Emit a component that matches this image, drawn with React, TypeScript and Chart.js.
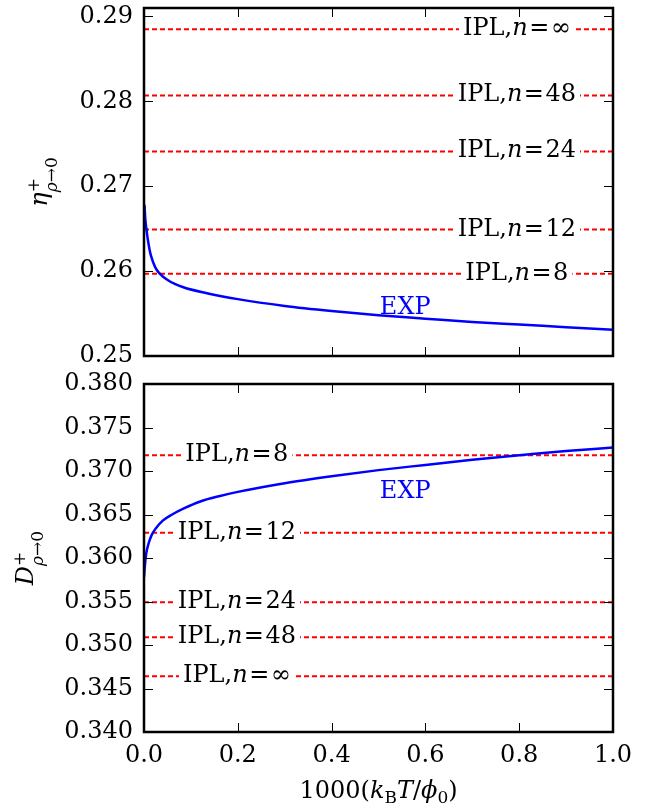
import { useEffect, useRef } from "react";
import { Chart, registerables } from "chart.js";

Chart.register(...registerables);

// ---- data ----
const X_TICK_LABELS = ["0.0", "0.2", "0.4", "0.6", "0.8", "1.0"];
const ETA_TICK_LABELS = ["0.25", "0.26", "0.27", "0.28", "0.29"];
const D_TICK_LABELS = ["0.340", "0.345", "0.350", "0.355", "0.360", "0.365", "0.370", "0.375", "0.380"];

// EXP shear viscosity, zero-density limit
const ETA_X = [0.001, 0.003, 0.006, 0.0085, 0.012, 0.015, 0.0235, 0.032, 0.052, 0.084, 0.134, 0.2, 0.3, 0.4, 0.5, 0.6, 0.7, 0.8, 0.9, 1.0];
const ETA_Y = [0.2678, 0.266, 0.2646, 0.2636, 0.2625, 0.2618, 0.2605, 0.2598, 0.2589, 0.2581, 0.2574, 0.2567, 0.2559, 0.2553, 0.2548, 0.2544, 0.254, 0.2537, 0.2534, 0.2531];

// EXP self-diffusion, zero-density limit
const D_X = [0, 0.002, 0.005, 0.01, 0.016, 0.025, 0.04, 0.06, 0.085, 0.12, 0.16, 0.2, 0.3, 0.4, 0.5, 0.6, 0.7, 0.8, 0.9, 1.0];
const D_Y = [0.3578, 0.3592, 0.3606, 0.3617, 0.3626, 0.3634, 0.3643, 0.365, 0.3657, 0.3665, 0.3671, 0.3676, 0.3686, 0.3694, 0.3701, 0.3707, 0.3713, 0.3718, 0.3723, 0.3727];

// inverse-power-law reference values
const IPL_N = ["8", "12", "24", "48", "∞"];
const ETA_IPL = [0.2597, 0.2649, 0.2741, 0.2807, 0.2885];
const D_IPL = [0.3718, 0.3629, 0.3549, 0.3509, 0.3464];

// ---- text helpers ----
const FAMILY = '"DejaVu Serif", serif';
const BASE = 24;
const SMALL = 17;

type Seg = { t: string; italic?: boolean; size?: number; dy?: number; gap?: number };
type Item = Seg | { sup: Seg[]; sub: Seg[] };

const fontOf = (s: Seg) => `${s.italic ? "italic " : ""}${s.size ?? BASE}px ${FAMILY}`;

function runWidth(ctx: CanvasRenderingContext2D, segs: Seg[]) {
  let w = 0;
  for (const s of segs) {
    ctx.font = fontOf(s);
    w += ctx.measureText(s.t).width + 2 * (s.gap ?? 0);
  }
  return w;
}

function layout(ctx: CanvasRenderingContext2D, items: Item[]) {
  const placed: { s: Seg; x: number }[] = [];
  let x = 0;
  const putRun = (segs: Seg[], start: number) => {
    let cx = start;
    for (const s of segs) {
      ctx.font = fontOf(s);
      cx += s.gap ?? 0;
      placed.push({ s, x: cx });
      cx += ctx.measureText(s.t).width + (s.gap ?? 0);
    }
  };
  for (const it of items) {
    if ("sup" in it) {
      putRun(it.sup, x);
      putRun(it.sub, x);
      x += Math.max(runWidth(ctx, it.sup), runWidth(ctx, it.sub));
    } else {
      putRun([it], x);
      x += runWidth(ctx, [it]);
    }
  }
  return { placed, width: x };
}

function drawItems(ctx: CanvasRenderingContext2D, items: Item[], x: number, y: number, center: boolean) {
  const { placed, width } = layout(ctx, items);
  const x0 = center ? x - width / 2 : x;
  ctx.textAlign = "left";
  ctx.textBaseline = "alphabetic";
  for (const p of placed) {
    ctx.font = fontOf(p.s);
    ctx.fillText(p.s.t, x0 + p.x, y + (p.s.dy ?? 0));
  }
  return width;
}

const iplText = (n: string): Item[] => [{ t: "IPL," }, { t: "n", italic: true }, { t: "=", gap: 1.5 }, { t: n }];
const subRho: Seg[] = [
  { t: "ρ", italic: true, size: SMALL, dy: 10 },
  { t: "→", size: SMALL, dy: 10 },
  { t: "0", size: SMALL, dy: 10 },
];
const ETA_TITLE: Item[] = [{ t: "η", italic: true }, { sup: [{ t: "+", size: SMALL, dy: -8 }], sub: subRho }];
const D_TITLE: Item[] = [{ t: "D", italic: true }, { sup: [{ t: "+", size: SMALL, dy: -8 }], sub: subRho }];
const X_TITLE: Item[] = [
  { t: "1000(" },
  { t: "k", italic: true },
  { t: "B", size: SMALL, dy: 5 },
  { t: "T", italic: true },
  { t: "/" },
  { t: "ϕ", italic: true },
  { t: "0", size: SMALL, dy: 5 },
  { t: ")" },
];

interface PanelSpec {
  tickLabels: string[];
  yMin: number;
  yMax: number;
  curveX: number[];
  curveY: number[];
  ipl: number[];
  iplAt: number;
  expAt: [number, number];
  padTop: number;
  padRight: number;
  yAxisWidth: number;
  xAxisHeight: number;
  showXTicks: boolean;
  yTitle: Item[];
  yTitleBaseline: number;
  xTitleBaseline?: number;
}

function makePanel(canvas: HTMLCanvasElement, spec: PanelSpec) {
  const yTicks = spec.tickLabels.map(Number);
  const xTicks = X_TICK_LABELS.map(Number);

  const decor = {
    id: "decor",
    afterDatasetsDraw(chart: Chart) {
      const ctx = chart.ctx;
      const xs = chart.scales.x;
      const ys = chart.scales.y;
      ctx.save();
      spec.ipl.forEach((v, i) => {
        const items = iplText(IPL_N[i]);
        const w = layout(ctx, items).width;
        const cx = xs.getPixelForValue(spec.iplAt);
        const cy = ys.getPixelForValue(v);
        ctx.fillStyle = "#ffffff";
        ctx.fillRect(cx - w / 2 - 4, cy - 10, w + 8, 20);
        ctx.fillStyle = "#000000";
        drawItems(ctx, items, cx, cy + 6, true);
      });
      ctx.fillStyle = "#0000ff";
      drawItems(ctx, [{ t: "EXP" }], xs.getPixelForValue(spec.expAt[0]), ys.getPixelForValue(spec.expAt[1]) + 9, true);
      ctx.restore();
    },
    afterDraw(chart: Chart) {
      const ctx = chart.ctx;
      const { left, right, top, bottom } = chart.chartArea;
      const xs = chart.scales.x;
      const ys = chart.scales.y;
      ctx.save();
      // inward tick marks on all four sides
      ctx.strokeStyle = "#000000";
      ctx.lineWidth = 1;
      const tl = 9;
      ctx.beginPath();
      for (const v of xTicks) {
        const px = Math.round(xs.getPixelForValue(v)) + 0.5;
        ctx.moveTo(px, bottom);
        ctx.lineTo(px, bottom - tl);
        ctx.moveTo(px, top);
        ctx.lineTo(px, top + tl);
      }
      for (const v of yTicks) {
        const py = Math.round(ys.getPixelForValue(v)) + 0.5;
        ctx.moveTo(left, py);
        ctx.lineTo(left + tl, py);
        ctx.moveTo(right, py);
        ctx.lineTo(right - tl, py);
      }
      ctx.stroke();
      // frame
      ctx.lineWidth = 2.5;
      ctx.strokeRect(left, top, right - left, bottom - top);
      // y title, rotated
      ctx.fillStyle = "#000000";
      const tw = layout(ctx, spec.yTitle).width;
      ctx.translate(spec.yTitleBaseline, (top + bottom) / 2 + tw / 2);
      ctx.rotate(-Math.PI / 2);
      drawItems(ctx, spec.yTitle, 0, 0, false);
      ctx.setTransform(1, 0, 0, 1, 0, 0);
      if (spec.xTitleBaseline !== undefined) {
        drawItems(ctx, X_TITLE, (left + right) / 2, spec.xTitleBaseline, true);
      }
      ctx.restore();
    },
  };

  const font = { family: "DejaVu Serif", size: BASE };

  return new Chart(canvas, {
    type: "line",
    data: {
      datasets: [
        {
          data: spec.curveX.map((x, i) => ({ x, y: spec.curveY[i] })),
          borderColor: "#0000ff",
          borderWidth: 2.5,
          pointRadius: 0,
          cubicInterpolationMode: "monotone",
          fill: false,
          order: 0,
        },
        ...spec.ipl.map((v) => ({
          data: [
            { x: 0, y: v },
            { x: 1, y: v },
          ],
          borderColor: "#ff0000",
          borderWidth: 2,
          borderDash: [5, 3],
          pointRadius: 0,
          fill: false,
          order: 1,
        })),
      ],
    },
    options: {
      animation: false,
      responsive: false,
      events: [],
      layout: { padding: { top: spec.padTop, right: spec.padRight, left: 0, bottom: 0 } },
      plugins: { legend: { display: false }, tooltip: { enabled: false } },
      scales: {
        x: {
          type: "linear",
          min: 0,
          max: 1,
          afterBuildTicks: (s: any) => {
            s.ticks = xTicks.map((value) => ({ value }));
          },
          afterFit: (s: any) => {
            s.height = spec.xAxisHeight;
            s.paddingLeft = 0;
            s.paddingRight = 0;
          },
          ticks: {
            display: spec.showXTicks,
            autoSkip: false,
            maxRotation: 0,
            padding: 9,
            color: "#000000",
            font,
            callback: (_v: any, i: number) => X_TICK_LABELS[i],
          },
          grid: { display: false, drawTicks: false },
          border: { display: false },
        },
        y: {
          type: "linear",
          min: spec.yMin,
          max: spec.yMax,
          afterBuildTicks: (s: any) => {
            s.ticks = yTicks.map((value) => ({ value }));
          },
          afterFit: (s: any) => {
            s.width = spec.yAxisWidth;
            s.paddingTop = 0;
            s.paddingBottom = 0;
          },
          ticks: {
            autoSkip: false,
            padding: 11,
            color: "#000000",
            font,
            callback: (_v: any, i: number) => spec.tickLabels[i],
          },
          grid: { display: false, drawTicks: false },
          border: { display: false },
        },
      },
    },
    plugins: [decor],
  } as any);
}

const W = 647;
const TOP_H = 370;
const BOTTOM_H = 436;

export default function App() {
  const topRef = useRef<HTMLCanvasElement>(null);
  const bottomRef = useRef<HTMLCanvasElement>(null);

  useEffect(() => {
    if (!topRef.current || !bottomRef.current) return;
    const common = { padRight: 34, yAxisWidth: 144 };
    const top = makePanel(topRef.current, {
      ...common,
      tickLabels: ETA_TICK_LABELS,
      yMin: 0.25,
      yMax: 0.291,
      curveX: ETA_X,
      curveY: ETA_Y,
      ipl: ETA_IPL,
      iplAt: 0.795,
      expAt: [0.557, 0.25596],
      padTop: 8,
      xAxisHeight: 14,
      showXTicks: false,
      yTitle: ETA_TITLE,
      yTitleBaseline: 47,
    });
    const bottom = makePanel(bottomRef.current, {
      ...common,
      tickLabels: D_TICK_LABELS,
      yMin: 0.34,
      yMax: 0.38,
      curveX: D_X,
      curveY: D_Y,
      ipl: D_IPL,
      iplAt: 0.198,
      expAt: [0.557, 0.36798],
      padTop: 14,
      xAxisHeight: 74,
      showXTicks: true,
      yTitle: D_TITLE,
      yTitleBaseline: 33,
      xTitleBaseline: 428,
    });
    return () => {
      top.destroy();
      bottom.destroy();
    };
  }, []);

  return (
    <div style={{ position: "absolute", left: 0, top: 0, width: W, height: TOP_H + BOTTOM_H, background: "#ffffff" }}>
      <canvas ref={topRef} width={W} height={TOP_H} style={{ position: "absolute", left: 0, top: 0, display: "block" }} />
      <canvas
        ref={bottomRef}
        width={W}
        height={BOTTOM_H}
        style={{ position: "absolute", left: 0, top: TOP_H, display: "block" }}
      />
    </div>
  );
}
